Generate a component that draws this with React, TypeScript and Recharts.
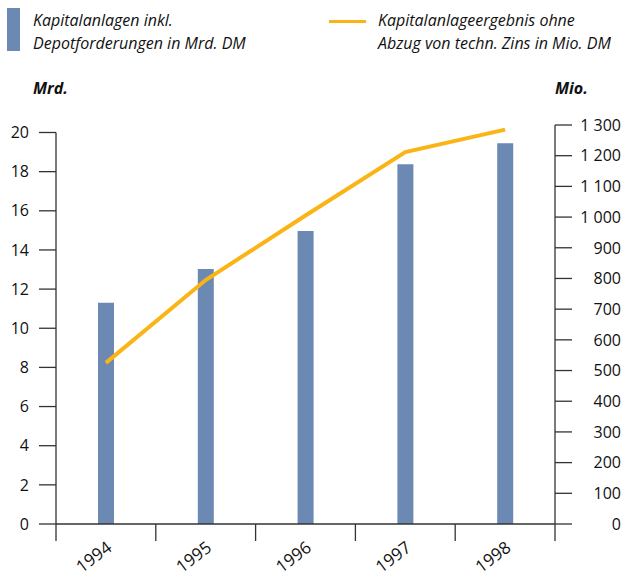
import React from "react";
import { ComposedChart, Bar, Line, XAxis, YAxis } from "recharts";

const years = ["1994", "1995", "1996", "1997", "1998"];
// Kapitalanlagen inkl. Depotforderungen, Mrd. DM
const kapitalanlagen = [11.3, 13.03, 14.97, 18.38, 19.45];
// Kapitalanlageergebnis ohne Abzug von techn. Zins, Mio. DM
const ergebnis = [525, 795, 1005, 1212, 1285];
const leftTicks = [0, 2, 4, 6, 8, 10, 12, 14, 16, 18, 20];
const rightTicks = [0, 100, 200, 300, 400, 500, 600, 700, 800, 900, 1000, 1100, 1200, 1300];

const data = years.map((year, i) => ({
  year,
  anlagen: kapitalanlagen[i],
  ergebnis: ergebnis[i],
}));

const FONT = "'Open Sans', sans-serif";
const INK = "#111";
const AXIS = "#333";
const BLUE = "#6b89b3";
const ORANGE = "#fbb415";

// plot box in px
const PLOT_LEFT = 56;
const PLOT_RIGHT = 555;
const PLOT_TOP = 125;
const PLOT_BOTTOM = 524;
const LEFT_AXIS_TOP = 132.5;
const AXIS_BOTTOM = 541;
const leftMax = (20 * (PLOT_BOTTOM - PLOT_TOP)) / (PLOT_BOTTOM - LEFT_AXIS_TOP);

const fmtMio = (v: number) => (v >= 1000 ? `${Math.floor(v / 1000)} ${String(v % 1000).padStart(3, "0")}` : String(v));

const YearTick = (props: any) => {
  const { x, payload } = props;
  const i = years.indexOf(payload.value);
  const band = (PLOT_RIGHT - PLOT_LEFT) / years.length;
  const left = x - band / 2;
  return (
    <g>
      <line x1={left} x2={left} y1={i === 0 ? LEFT_AXIS_TOP : PLOT_BOTTOM} y2={AXIS_BOTTOM} stroke={AXIS} strokeWidth={1.3} />
      {i === years.length - 1 && (
        <line x1={x + band / 2} x2={x + band / 2} y1={PLOT_BOTTOM} y2={AXIS_BOTTOM} stroke={AXIS} strokeWidth={1.3} />
      )}
      <text
        transform={`translate(${x + 7},${PLOT_BOTTOM + 26}) rotate(-37)`}
        textAnchor="end"
        fontSize={17}
        fontFamily={FONT}
        fill={INK}
      >
        {payload.value}
      </text>
    </g>
  );
};

const MioTick = (props: any) => {
  const { y, payload } = props;
  return (
    <text x={621} y={y} dy="0.36em" textAnchor="end" fontSize={16} fontFamily={FONT} fill={INK}>
      {fmtMio(payload.value)}
    </text>
  );
};

export default function App() {
  return (
    <div style={{ position: "relative", width: 625, height: 578, background: "#fff", fontFamily: FONT, color: INK }}>
      <style>{`body{margin:0}`}</style>

      {/* legend */}
      <div style={{ position: "absolute", left: 7, top: 8, width: 13, height: 43, background: BLUE }} />
      <div style={{ position: "absolute", left: 33, top: 9, fontSize: 16, fontStyle: "italic", lineHeight: "23px" }}>
        Kapitalanlagen inkl.
        <br />
        Depotforderungen in Mrd. DM
      </div>
      <div style={{ position: "absolute", left: 329, top: 20, width: 37, height: 3, background: ORANGE }} />
      <div style={{ position: "absolute", left: 378, top: 9, fontSize: 16, fontStyle: "italic", lineHeight: "23px" }}>
        Kapitalanlageergebnis ohne
        <br />
        Abzug von techn. Zins in Mio. DM
      </div>
      <div style={{ position: "absolute", left: 33, top: 77, fontSize: 16, fontStyle: "italic", fontWeight: 700 }}>Mrd.</div>
      <div style={{ position: "absolute", left: 555, top: 77, fontSize: 16, fontStyle: "italic", fontWeight: 700 }}>Mio.</div>

      <div style={{ position: "absolute", left: 0, top: 0 }}>
        <ComposedChart width={625} height={578} data={data} margin={{ top: PLOT_TOP, right: 0, left: 0, bottom: 0 }}>
          <XAxis
            dataKey="year"
            height={578 - PLOT_BOTTOM}
            interval={0}
            tickLine={false}
            axisLine={{ stroke: AXIS, strokeWidth: 1.3 }}
            tick={<YearTick />}
          />
          <YAxis
            yAxisId="left"
            width={PLOT_LEFT}
            domain={[0, leftMax]}
            ticks={leftTicks}
            interval={0}
            axisLine={false}
            tickSize={17}
            tickMargin={10}
            tickLine={{ stroke: AXIS, strokeWidth: 1.3 }}
            tick={{ fontSize: 16, fontFamily: FONT, fill: INK }}
          />
          <YAxis
            yAxisId="right"
            orientation="right"
            width={625 - PLOT_RIGHT}
            domain={[0, 1300]}
            ticks={rightTicks}
            interval={0}
            tickSize={17}
            axisLine={{ stroke: AXIS, strokeWidth: 1.3 }}
            tickLine={{ stroke: AXIS, strokeWidth: 1.3 }}
            tick={<MioTick />}
          />
          <Bar yAxisId="left" dataKey="anlagen" fill={BLUE} barSize={16} isAnimationActive={false} />
          <Line
            yAxisId="right"
            type="linear"
            dataKey="ergebnis"
            stroke={ORANGE}
            strokeWidth={4}
            dot={false}
            activeDot={false}
            isAnimationActive={false}
          />
        </ComposedChart>
      </div>
    </div>
  );
}
